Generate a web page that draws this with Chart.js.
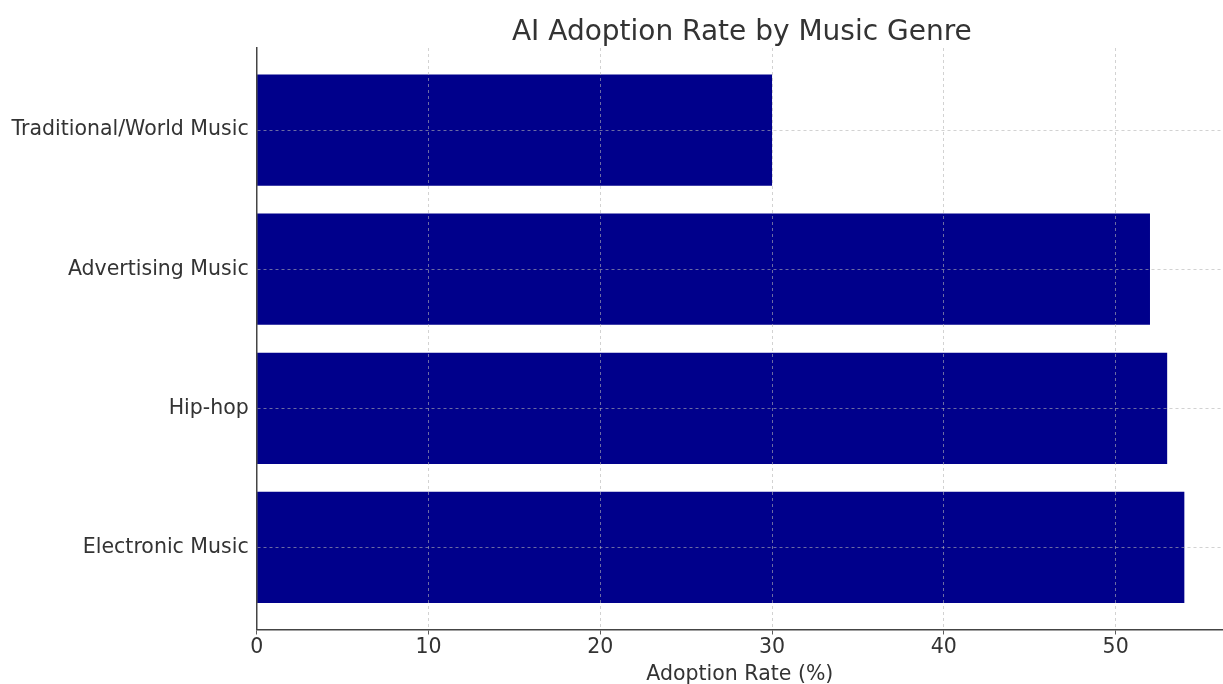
<!DOCTYPE html>
<html>
<head>
<meta charset="utf-8">
<script src="https://cdn.jsdelivr.net/npm/chart.js@4"></script>
<style>
  html, body { margin: 0; padding: 0; background: #fff; }
  #wrap { width: 1223px; height: 684px; }
</style>
</head>
<body>
<div id="wrap"><canvas id="chart"></canvas></div>
<script>
// Genres from bottom to top, as in the picture
var genres = ['Electronic Music', 'Hip-hop', 'Advertising Music', 'Traditional/World Music'];
var adoption = [54, 53, 52, 30];
var xTicks = [0, 10, 20, 30, 40, 50];
var chartTitle = 'AI Adoption Rate by Music Genre';

var FONT = "'DejaVu Sans', sans-serif";
var TEXT = '#333333';
var GRID = 'rgba(180,180,180,0.75)';

var points = genres.map(function(g, i) {
    return { x: adoption[i], y: i };
});

// Title centred over the plot area, not the whole canvas
var plotTitle = {
    id: 'plotTitle',
    afterDraw: function(chart) {
        var c = chart.ctx;
        var area = chart.chartArea;
        c.save();
        c.font = '28px ' + FONT;
        c.fillStyle = TEXT;
        c.textAlign = 'center';
        c.textBaseline = 'alphabetic';
        c.fillText(chartTitle, (area.left + area.right) / 2 + 2, 39.5);
        c.restore();
    }
};

Chart.defaults.font.family = FONT;
Chart.defaults.color = TEXT;

var ctx = document.getElementById('chart').getContext('2d');
var myChart = new Chart(ctx, {
    type: 'bar',
    data: {
        datasets: [{
            label: 'Adoption Rate (%)',
            data: points,
            backgroundColor: '#00008b',
            borderWidth: 0,
            categoryPercentage: 1,
            barPercentage: 0.8
        }]
    },
    plugins: [plotTitle],
    options: {
        indexAxis: 'y',
        responsive: true,
        maintainAspectRatio: false,
        animation: false,
        layout: { padding: { top: 48, left: 0, right: 0, bottom: 0 } },
        plugins: {
            legend: { display: false },
            tooltip: { enabled: false },
            title: { display: false }
        },
        scales: {
            x: {
                type: 'linear',
                min: 0,
                max: 56.25,
                afterBuildTicks: function(scale) {
                    scale.ticks = xTicks.map(function(v) { return { value: v }; });
                },
                afterFit: function(scale) { scale.height = 54.5; },
                ticks: {
                    font: { size: 20.5, family: FONT },
                    color: TEXT,
                    padding: 1
                },
                grid: {
                    color: GRID,
                    lineWidth: 0.8,
                    tickColor: TEXT,
                    tickBorderDash: [],
                    tickLength: 5,
                    z: 1
                },
                border: { display: true, color: '#444444', width: 1.5, dash: [3, 3], z: 2 },
                title: {
                    display: true,
                    text: 'Adoption Rate (%)',
                    font: { size: 20.5, family: FONT },
                    color: TEXT,
                    padding: { top: 0, bottom: -3 }
                }
            },
            y: {
                type: 'linear',
                min: -0.59,
                max: 3.59,
                offset: false,
                afterBuildTicks: function(scale) {
                    scale.ticks = genres.map(function(g, i) { return { value: i }; });
                },
                afterFit: function(scale) { scale.width = 256.7; },
                ticks: {
                    font: { size: 20.5, family: FONT },
                    color: TEXT,
                    padding: 8,
                    callback: function(v) { return genres[v]; }
                },
                grid: {
                    color: GRID,
                    lineWidth: 0.8,
                    offset: false,
                    drawTicks: false,
                    z: 1
                },
                border: { display: true, color: '#444444', width: 1.5, dash: [3, 3], z: 2 }
            }
        }
    }
});
</script>
</body>
</html>
